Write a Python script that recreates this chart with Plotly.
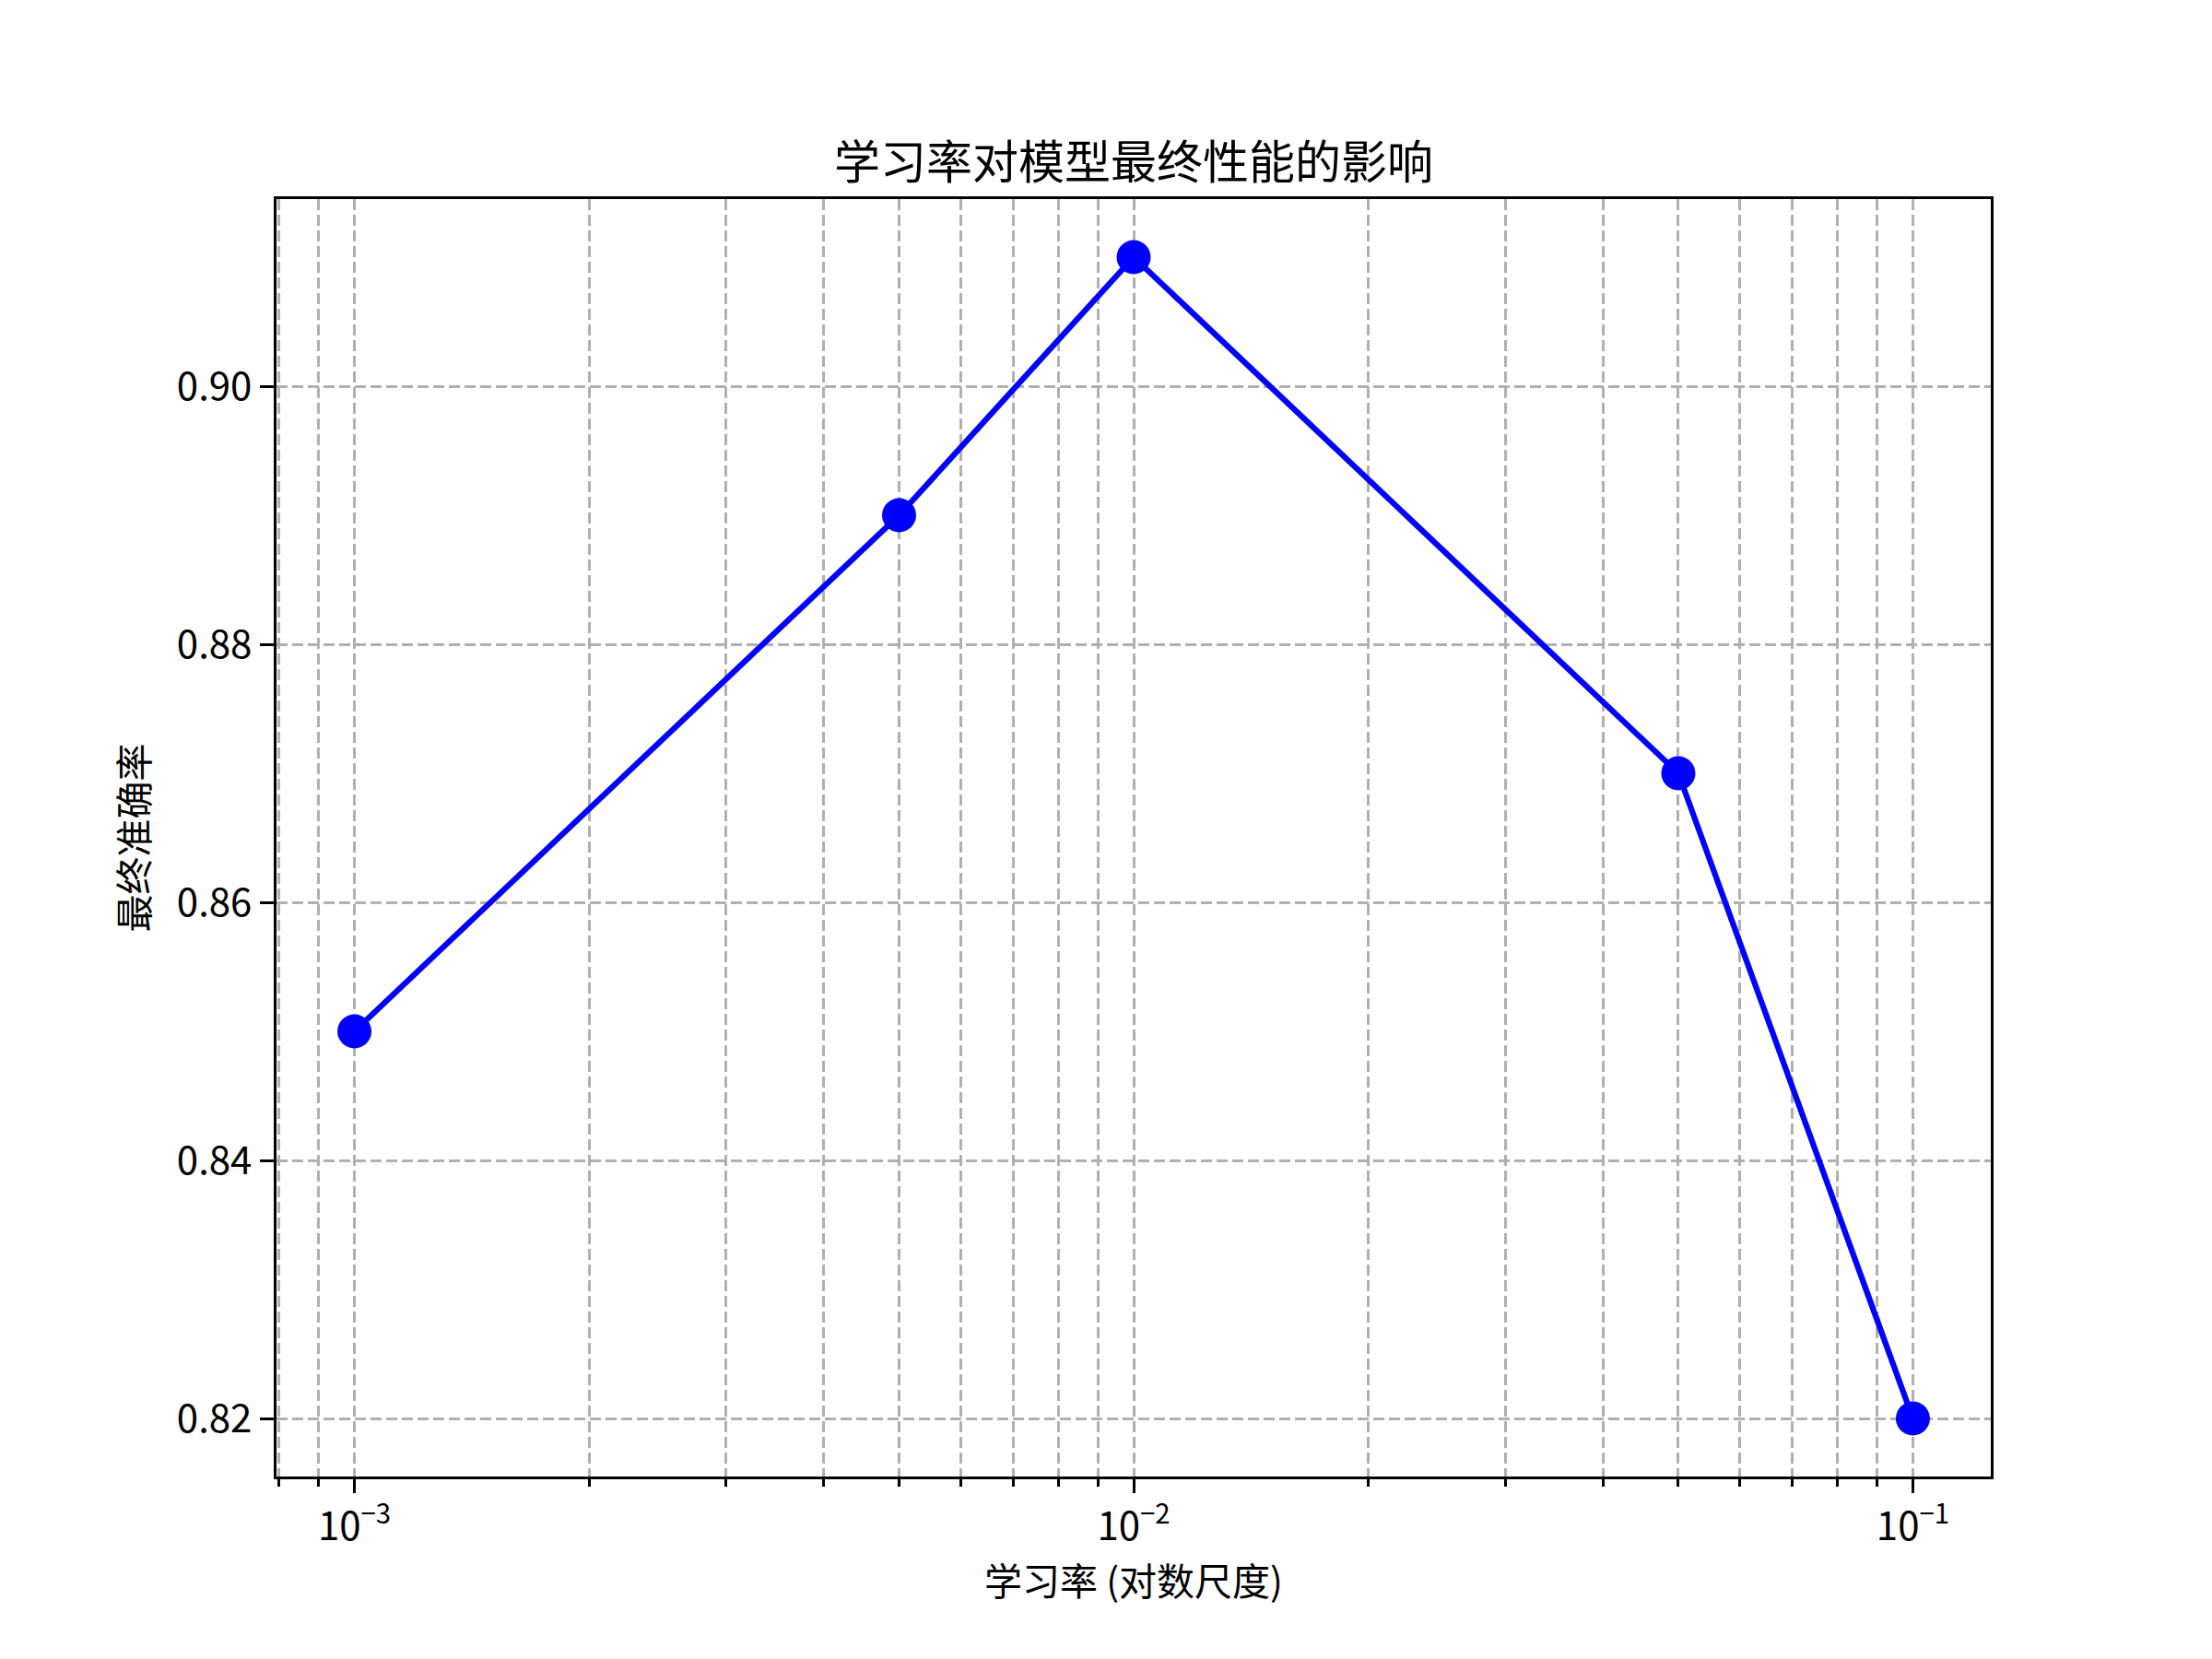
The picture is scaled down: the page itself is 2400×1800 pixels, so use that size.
import plotly.graph_objects as go

# learning rate sweep
learning_rates = [0.001, 0.005, 0.01, 0.05, 0.1]
final_accuracy = [0.85, 0.89, 0.91, 0.87, 0.82]

x_major = [0.001, 0.01, 0.1]
x_major_text = ["10<sup>\u22123</sup>", "10<sup>\u22122</sup>", "10<sup>\u22121</sup>"]
x_minor = [m * 10.0 ** e for e in (-4, -3, -2) for m in range(2, 10)]
y_ticks = [0.82, 0.84, 0.86, 0.88, 0.90]

FONT = "Noto Sans CJK SC, Noto Sans, sans-serif"
GRID = "rgb(176,176,176)"
DASH = "12px,5px"

fig = go.Figure()
fig.add_trace(go.Scatter(
    x=learning_rates, y=final_accuracy,
    mode="lines+markers",
    line=dict(color="#0000ff", width=6.25),
    marker=dict(color="#0000ff", size=37),
    showlegend=False,
))

fig.update_layout(
    width=2400, height=1800,
    margin=dict(l=292, r=248, t=208, b=206),
    paper_bgcolor="white", plot_bgcolor="white",
    font=dict(family=FONT, size=41, color="black"),
    title=dict(
        text="学习率对模型最终性能的影响",
        font=dict(size=50, family=FONT, color="black"),
        x=0.5, xref="paper", xanchor="center",
        y=1, yref="paper", yanchor="bottom",
        pad=dict(b=22),
    ),
)

fig.update_xaxes(
    type="log", range=[-3.1, -0.9],
    tickmode="array", tickvals=x_major, ticktext=x_major_text,
    ticks="outside", ticklen=15, tickwidth=3.3, tickcolor="black",
    tickfont=dict(size=42, family=FONT),
    showline=True, linecolor="black", linewidth=3.3, mirror=True,
    showgrid=True, gridcolor=GRID, gridwidth=3.3, griddash=DASH,
    zeroline=False,
    minor=dict(
        tickmode="array", tickvals=x_minor,
        ticks="outside", ticklen=8, tickwidth=2.5, tickcolor="black",
        showgrid=True, gridcolor=GRID, gridwidth=3.3, griddash=DASH,
    ),
    title=dict(text="学习率 (对数尺度)", font=dict(size=41, family=FONT), standoff=2),
)

fig.update_yaxes(
    range=[0.8155, 0.9145],
    tickmode="array", tickvals=y_ticks, tickformat=".2f",
    ticks="outside", ticklen=15, tickwidth=3.3, tickcolor="black",
    tickfont=dict(size=42, family=FONT),
    showline=True, linecolor="black", linewidth=3.3, mirror=True,
    showgrid=True, gridcolor=GRID, gridwidth=3.3, griddash=DASH,
    zeroline=False,
    title=dict(text="最终准确率", font=dict(size=41, family=FONT), standoff=18),
)

fig.write_html("out.html")
